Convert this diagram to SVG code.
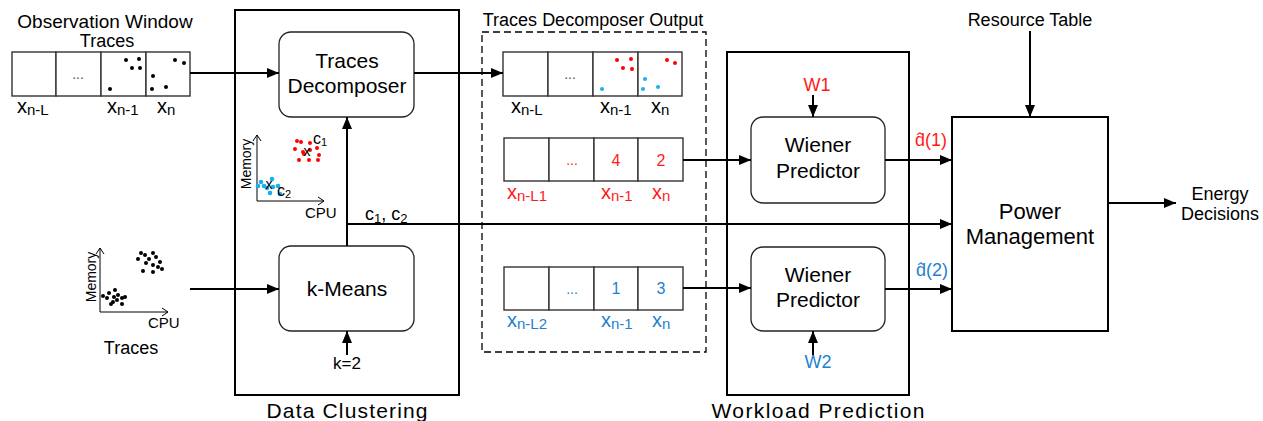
<svg xmlns="http://www.w3.org/2000/svg" width="1263" height="421" viewBox="0 0 1263 421">
  <style>
    text { font-family: "Liberation Sans", Arial, sans-serif; fill: #000; }
    .box { fill: none; stroke: #000; stroke-width: 2; }
    .dash { fill: none; stroke: #000; stroke-width: 1.3; stroke-dasharray: 7 4; }
    .rr { fill: #fff; stroke: #222; stroke-width: 1.3; }
    .cell { fill: #fff; stroke: #333; stroke-width: 1.4; }
    .wire { fill: none; stroke: #000; stroke-width: 2; }
    .axis { fill: none; stroke: #000; stroke-width: 1; }
    .big { font-size: 21px; text-anchor: middle; }
    .lbl { font-size: 18px; }
    .xl { font-size: 20px; }
    .sub { font-size: 15px; }
    .dots { fill: #555; }
    .red { fill: #ff1a1a; }
    .blue { fill: #1f7fd0; }
    .dk { fill: #000; }
    .dr { fill: #ff0000; }
    .db { fill: #19aef0; }
  </style>
  <defs>
    <marker id="ah" markerUnits="userSpaceOnUse" markerWidth="13" markerHeight="11" refX="12" refY="5" orient="auto">
      <path d="M0,0 L12,5 L0,10 z" fill="#000"/>
    </marker>
    <marker id="chev" markerUnits="userSpaceOnUse" markerWidth="8" markerHeight="10" refX="6" refY="5" orient="auto">
      <path d="M0,1 L6,5 L0,9" fill="none" stroke="#000" stroke-width="1"/>
    </marker>
  </defs>

  <!-- container frames -->
  <g id="data-clustering">
    <rect class="box" x="235" y="10" width="224" height="385"/>
    <text x="347" y="418" font-size="21" text-anchor="middle" textLength="161" lengthAdjust="spacing">Data Clustering</text>
  </g>
  <g id="decomposer-output">
    <rect class="dash" x="482" y="32" width="224" height="320"/>
    <text x="593" y="26" class="lbl" text-anchor="middle">Traces Decomposer Output</text>
  </g>
  <g id="workload-prediction">
    <rect class="box" x="727" y="52" width="182" height="343"/>
    <text x="818" y="418" font-size="21" text-anchor="middle" textLength="213" lengthAdjust="spacing">Workload Prediction</text>
  </g>

  <!-- observation window -->
  <g id="observation-window">
    <text x="105" y="28" font-size="19" text-anchor="middle">Observation Window</text>
    <text x="107" y="47" font-size="18" text-anchor="middle">Traces</text>
    <rect class="cell" x="12" y="52" width="44" height="44"/>
    <rect class="cell" x="56" y="52" width="45" height="44"/>
    <rect class="cell" x="101" y="52" width="45" height="44"/>
    <rect class="cell" x="146" y="52" width="44" height="44"/>
    <text x="78" y="79" font-size="14" text-anchor="middle" class="dots">...</text>
    <g class="dk">
      <circle cx="126" cy="60" r="2"/><circle cx="139" cy="59" r="2"/><circle cx="132" cy="68" r="2"/><circle cx="140" cy="68" r="2"/><circle cx="110" cy="89" r="2"/>
      <circle cx="175" cy="60" r="2"/><circle cx="184" cy="63" r="2"/><circle cx="153" cy="76" r="2"/><circle cx="152" cy="89" r="2"/><circle cx="166" cy="87" r="2"/>
    </g>
    <text x="17" y="113" class="xl">x<tspan class="sub" dy="2">n-L</tspan></text>
    <text x="107" y="113" class="xl">x<tspan class="sub" dy="2">n-1</tspan></text>
    <text x="157" y="113" class="xl">x<tspan class="sub" dy="2">n</tspan></text>
  </g>

  <!-- raw traces scatter -->
  <g id="traces">
    <path class="axis" d="M100,312 L100,248" marker-end="url(#chev)"/>
    <path class="axis" d="M100,312 L168,312" marker-end="url(#chev)"/>
    <text transform="translate(96,277) rotate(-90)" font-size="14" text-anchor="middle">Memory</text>
    <text x="148" y="328" font-size="15">CPU</text>
    <g class="dk">
      <circle cx="141" cy="253" r="2"/><circle cx="145" cy="255" r="2"/><circle cx="153" cy="253" r="2"/><circle cx="138" cy="259" r="2"/><circle cx="149" cy="259" r="2"/><circle cx="156" cy="257" r="2"/><circle cx="160" cy="262" r="2"/><circle cx="146" cy="263" r="2"/><circle cx="153" cy="265" r="2"/><circle cx="143" cy="271" r="2"/><circle cx="153" cy="272" r="2"/><circle cx="162" cy="269" r="2"/><circle cx="158" cy="267" r="2"/>
      <circle cx="103" cy="296" r="2"/><circle cx="107" cy="298" r="2"/><circle cx="109" cy="293" r="2"/><circle cx="115" cy="290" r="2"/><circle cx="114" cy="297" r="2"/><circle cx="118" cy="295" r="2"/><circle cx="122" cy="298" r="2"/><circle cx="125" cy="297" r="2"/><circle cx="113" cy="302" r="2"/><circle cx="117" cy="300" r="2"/><circle cx="122" cy="304" r="2"/><circle cx="111" cy="304" r="2"/>
    </g>
    <text x="131" y="354" font-size="18" text-anchor="middle">Traces</text>
  </g>

  <!-- clustered scatter -->
  <g id="cluster-plot">
    <path class="axis" d="M257,201 L257,135" marker-end="url(#chev)"/>
    <path class="axis" d="M257,201 L324,201" marker-end="url(#chev)"/>
    <text transform="translate(251,164) rotate(-90)" font-size="14" text-anchor="middle">Memory</text>
    <text x="305" y="218" font-size="15">CPU</text>
    <g class="dr">
      <circle cx="297" cy="141" r="2"/><circle cx="301" cy="142" r="2"/><circle cx="295" cy="149" r="2"/><circle cx="303" cy="152" r="2"/><circle cx="310" cy="143" r="2"/><circle cx="310" cy="150" r="2"/><circle cx="317" cy="148" r="2"/><circle cx="319" cy="155" r="2"/><circle cx="299" cy="160" r="2"/><circle cx="309" cy="160" r="2"/><circle cx="318" cy="160" r="2"/><circle cx="304" cy="154" r="2"/>
    </g>
    <g class="db">
      <circle cx="261" cy="182" r="2.3"/><circle cx="264" cy="186" r="2.3"/><circle cx="272" cy="179" r="2.3"/><circle cx="267" cy="188" r="2.3"/><circle cx="273" cy="187" r="2.3"/><circle cx="278" cy="186" r="2.3"/><circle cx="270" cy="193" r="2.3"/><circle cx="280" cy="194" r="2.3"/><circle cx="258" cy="186" r="2.3"/>
    </g>
    <text x="307" y="156" font-size="14" text-anchor="middle">x</text>
    <text x="313" y="144" font-size="16">c<tspan font-size="11" dy="2">1</tspan></text>
    <text x="269" y="189" font-size="14" text-anchor="middle">x</text>
    <text x="277" y="196" font-size="16">c<tspan font-size="11" dy="2">2</tspan></text>
  </g>

  <g id="traces-decomposer">
    <rect class="rr" x="279" y="32" width="135" height="85" rx="12"/>
    <text x="347" y="68" class="big">Traces</text>
    <text x="347" y="93" class="big">Decomposer</text>
  </g>

  <g id="k-means">
    <rect class="rr" x="279" y="246" width="135" height="85" rx="12"/>
    <text x="347" y="296" class="big">k-Means</text>
    <text x="347" y="369" font-size="17" text-anchor="middle">k=2</text>
  </g>

  <!-- decomposed windows -->
  <g id="all-window">
    <rect class="cell" x="503" y="52" width="45" height="44"/>
    <rect class="cell" x="548" y="52" width="45" height="44"/>
    <rect class="cell" x="593" y="52" width="45" height="44"/>
    <rect class="cell" x="638" y="52" width="44" height="44"/>
    <text x="570" y="79" font-size="14" text-anchor="middle" class="dots">...</text>
    <g class="dr"><circle cx="617" cy="60" r="2"/><circle cx="631" cy="59" r="2"/><circle cx="623" cy="68" r="2"/><circle cx="632" cy="69" r="2"/><circle cx="667" cy="60" r="2"/><circle cx="675" cy="63" r="2"/></g>
    <g class="db"><circle cx="602" cy="89" r="2"/><circle cx="645" cy="79" r="2"/><circle cx="643" cy="89" r="2"/><circle cx="658" cy="87" r="2"/></g>
    <text x="511" y="113" class="xl">x<tspan class="sub" dy="2">n-L</tspan></text>
    <text x="600" y="113" class="xl">x<tspan class="sub" dy="2">n-1</tspan></text>
    <text x="651" y="113" class="xl">x<tspan class="sub" dy="2">n</tspan></text>
  </g>

  <g id="cluster1-window">
    <rect class="cell" x="504" y="138" width="45" height="43"/>
    <rect class="cell" x="549" y="138" width="45" height="43"/>
    <rect class="cell" x="594" y="138" width="44" height="43"/>
    <rect class="cell" x="638" y="138" width="45" height="43"/>
    <text x="572" y="165" font-size="14" text-anchor="middle" class="red">...</text>
    <text x="616" y="166" font-size="16" text-anchor="middle" class="red">4</text>
    <text x="661" y="166" font-size="16" text-anchor="middle" class="red">2</text>
    <text x="507" y="199" class="xl red">x<tspan class="sub" dy="2">n-L1</tspan></text>
    <text x="601" y="199" class="xl red">x<tspan class="sub" dy="2">n-1</tspan></text>
    <text x="652" y="199" class="xl red">x<tspan class="sub" dy="2">n</tspan></text>
  </g>

  <g id="cluster2-window">
    <rect class="cell" x="504" y="267" width="45" height="43"/>
    <rect class="cell" x="549" y="267" width="45" height="43"/>
    <rect class="cell" x="594" y="267" width="44" height="43"/>
    <rect class="cell" x="638" y="267" width="45" height="43"/>
    <text x="572" y="294" font-size="14" text-anchor="middle" class="blue">...</text>
    <text x="616" y="294" font-size="16" text-anchor="middle" class="blue">1</text>
    <text x="661" y="294" font-size="16" text-anchor="middle" class="blue">3</text>
    <text x="507" y="327" class="xl blue">x<tspan class="sub" dy="2">n-L2</tspan></text>
    <text x="601" y="327" class="xl blue">x<tspan class="sub" dy="2">n-1</tspan></text>
    <text x="652" y="327" class="xl blue">x<tspan class="sub" dy="2">n</tspan></text>
  </g>

  <g id="wiener-1">
    <rect class="rr" x="751" y="117" width="134" height="86" rx="12"/>
    <text x="818" y="152" class="big">Wiener</text>
    <text x="818" y="178" class="big">Predictor</text>
    <text x="817" y="91" font-size="18" text-anchor="middle" class="red">W1</text>
  </g>

  <g id="wiener-2">
    <rect class="rr" x="751" y="247" width="134" height="84" rx="12"/>
    <text x="818" y="282" class="big">Wiener</text>
    <text x="818" y="307" class="big">Predictor</text>
    <text x="818" y="368" font-size="18" text-anchor="middle" class="blue">W2</text>
  </g>

  <g id="power-management">
    <rect class="box" x="952" y="117" width="156" height="214"/>
    <text x="1030" y="219" font-size="22" text-anchor="middle">Power</text>
    <text x="1030" y="244" font-size="22" text-anchor="middle">Management</text>
    <text x="1030" y="26" class="lbl" text-anchor="middle">Resource Table</text>
    <text x="1220" y="200" class="lbl" text-anchor="middle">Energy</text>
    <text x="1220" y="220" class="lbl" text-anchor="middle">Decisions</text>
  </g>

  <!-- signal labels: estimates written with a combining circumflex -->
  <g id="signal-labels">
    <text x="365" y="220" font-size="18">c<tspan font-size="13" dy="3">1</tspan><tspan dy="-3">, c</tspan><tspan font-size="13" dy="3">2</tspan></text>
    <text x="915" y="146" font-size="18" class="red">d&#x302;(1)</text>
    <text x="916" y="276" font-size="18" class="blue">d&#x302;(2)</text>
  </g>

  <g id="connectors">
    <path class="wire" d="M190,73 L279,73" marker-end="url(#ah)"/>
    <path class="wire" d="M414,73 L503,73" marker-end="url(#ah)"/>
    <path class="wire" d="M347,246 L347,117" marker-end="url(#ah)"/>
    <path class="wire" d="M347,224 L952,224" marker-end="url(#ah)"/>
    <path class="wire" d="M347,355 L347,331" marker-end="url(#ah)"/>
    <path class="wire" d="M190,289 L279,289" marker-end="url(#ah)"/>
    <path class="wire" d="M683,160 L751,160" marker-end="url(#ah)"/>
    <path class="wire" d="M683,288 L751,288" marker-end="url(#ah)"/>
    <path class="wire" d="M813,95 L813,117" marker-end="url(#ah)"/>
    <path class="wire" d="M813,355 L813,331" marker-end="url(#ah)"/>
    <path class="wire" d="M885,160 L952,160" marker-end="url(#ah)"/>
    <path class="wire" d="M885,289 L952,289" marker-end="url(#ah)"/>
    <path class="wire" d="M1030,31 L1030,117" marker-end="url(#ah)"/>
    <path class="wire" d="M1108,203 L1176,203" marker-end="url(#ah)"/>
  </g>
</svg>
